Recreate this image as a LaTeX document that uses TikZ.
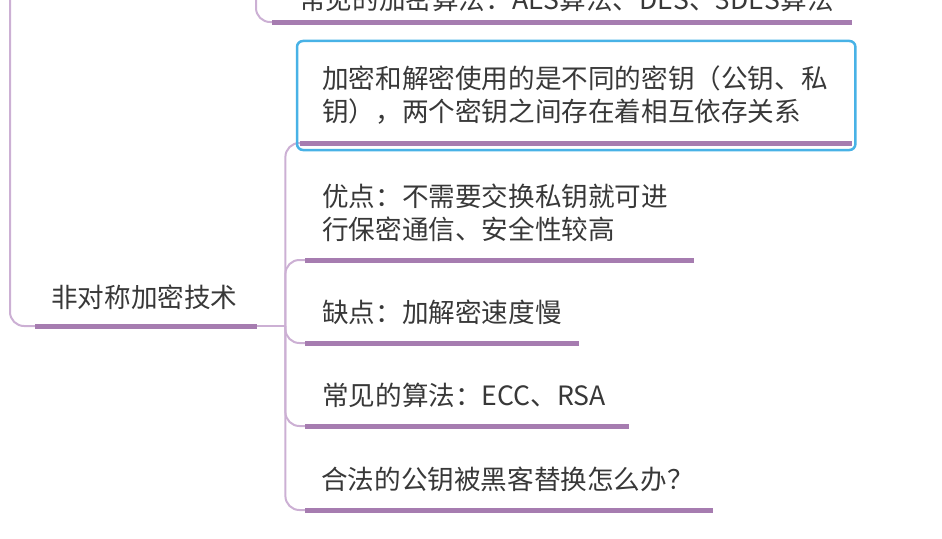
\documentclass[tikz,border=0pt]{standalone}
\usepackage{fontspec}
\usepackage{xcolor}
\usepackage{tikz}
\usetikzlibrary{calc}
\newfontfamily\cjkfont{Noto Sans CJK SC}
\definecolor{branch}{RGB}{166,124,176}
\definecolor{twig}{RGB}{204,176,212}
\definecolor{selblue}{RGB}{72,178,230}
\definecolor{inkgray}{RGB}{56,56,56}
\tikzset{
  topic/.style={
    anchor=south west, inner xsep=17pt, inner ysep=18pt,
    align=left, text=inkgray, font=\cjkfont\fontsize{26.6}{33}\selectfont
  },
  underline/.style={draw=branch, line width=5pt},
  link/.style={draw=twig, line width=2pt, rounded corners=14pt},
  selbox/.style={draw=selblue, line width=2.5pt, rounded corners=6pt},
}
\begin{document}
\begin{tikzpicture}[x=1pt, y=-1pt]
  \useasboundingbox (0,0) rectangle (942,538);
  % nodes
  \node[topic, inner xsep=27pt, inner ysep=10pt, text width=526pt] (symalgo) at (272,22) {常见的加密算法：AES算法、DES、3DES算法};
  \node[topic, inner xsep=16pt, inner ysep=16pt, text width=190pt] (asym) at (35,326) {非对称加密技术};
  \node[topic, inner xsep=22pt, text width=508pt] (pubkey) at (300,143)
    {加密和解密使用的是不同的密钥（公钥、私\\钥），两个密钥之间存在着相互依存关系};
  \node[topic, text width=355pt] (pros) at (305,260) {优点：不需要交换私钥就可进\\行保密通信、安全性较高};
  \node[topic, text width=240pt] (cons) at (305,343) {缺点：加解密速度慢};
  \node[topic, text width=290pt] (algos) at (305,426) {常见的算法：ECC、RSA};
  \node[topic, inner xsep=16pt, text width=376pt] (fake) at (305,510) {合法的公钥被黑客替换怎么办？};
  \coordinate (rootstem) at (10,-2);
  \coordinate (symstem) at (256,-2);
  \coordinate (hub) at ($(asym.south east)+(28,0)$);
  % connectors
  \draw[link] (rootstem) |- (asym.south west);
  \draw[link] (symstem) |- (symalgo.south west);
  \draw[link] (asym.south east) -- (hub);
  \foreach \kid in {pubkey, pros, cons, algos, fake}
    \draw[link] (hub) |- (\kid.south west);
  % underlines
  \foreach \kid in {symalgo, asym, pubkey, pros, cons, algos, fake}
    \draw[underline] (\kid.south west) -- (\kid.south east);
  % selection frame
  \draw[selbox] ($(pubkey.south west)+(-3,7)$) rectangle ($(pubkey.north east)+(3,-7)$);
\end{tikzpicture}
\end{document}
